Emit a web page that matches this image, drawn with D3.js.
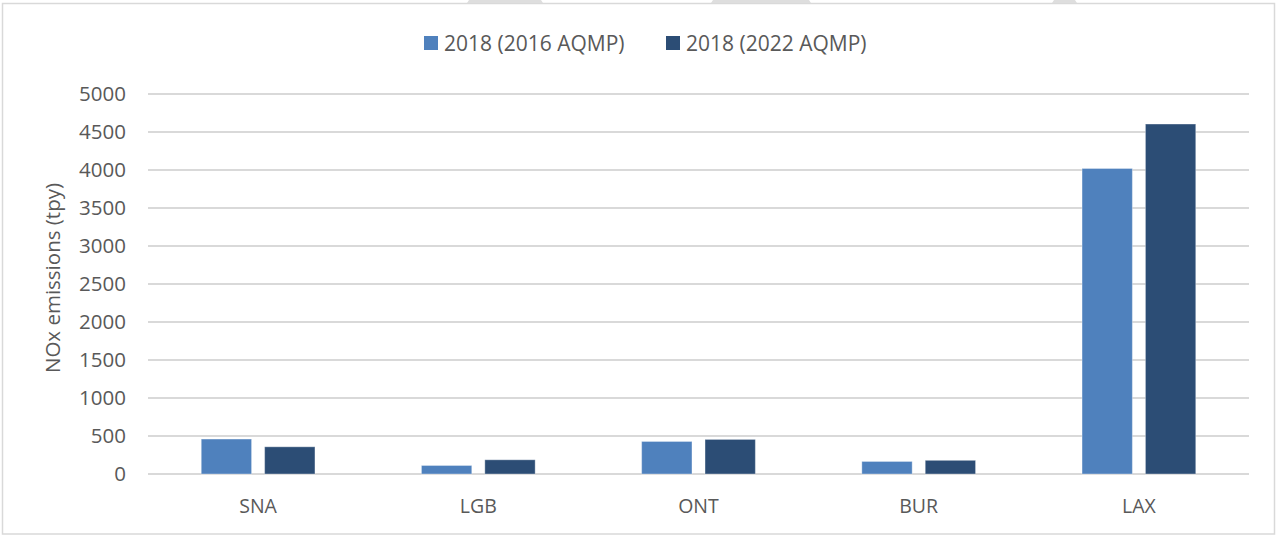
<!DOCTYPE html>
<html>
<head>
<meta charset="utf-8">
<script src="https://cdn.jsdelivr.net/npm/d3@7"></script>
<style>
  html, body { margin: 0; padding: 0; background: #fff; }
  text { font-family: "Open Sans", "Noto Sans", sans-serif; fill: #595959; }
</style>
</head>
<body>
<div id="chart"></div>
<script>
// data
const airports = ['SNA', 'LGB', 'ONT', 'BUR', 'LAX'];
const seriesNames = ['2018 (2016 AQMP)', '2018 (2022 AQMP)'];
const aqmp2016 = [460, 112, 428, 165, 4020];
const aqmp2022 = [358, 187, 455, 180, 4605];
const yTicks = [0, 500, 1000, 1500, 2000, 2500, 3000, 3500, 4000, 4500, 5000];
const colors = ['#4f81bd', '#2c4d75'];

const width = 1278;
const height = 536;
const plot = { left: 148, right: 1249, top: 94, bottom: 474 };

const svg = d3.select('#chart')
  .append('svg')
  .attr('width', width)
  .attr('height', height);

// outer chart frame
svg.append('rect')
  .attr('x', 2.5).attr('y', 3.5)
  .attr('width', 1272).attr('height', 530.5)
  .attr('fill', 'none')
  .attr('stroke', '#d9d9d9')
  .attr('stroke-width', 1.5);

// faint grey shapes poking above the frame
[[469, 541], [713, 809], [1054, 1075]].forEach(([a, b]) => {
  svg.append('path')
    .attr('d', `M${a},0 L${b},0 L${b + 2},3 L${a - 2},3 Z`)
    .attr('fill', '#dedede');
});

const x0 = d3.scaleBand()
  .domain(airports)
  .range([plot.left, plot.right])
  .paddingInner(0).paddingOuter(0);

const x1 = d3.scaleBand()
  .domain(seriesNames)
  .range([0, x0.bandwidth()])
  .paddingInner(0.206)
  .paddingOuter(0.84);

const y = d3.scaleLinear()
  .domain([0, 5000])
  .range([plot.bottom, plot.top]);

// gridlines
svg.append('g')
  .selectAll('line')
  .data(yTicks)
  .enter()
  .append('line')
  .attr('x1', plot.left).attr('x2', plot.right)
  .attr('y1', d => y(d)).attr('y2', d => y(d))
  .attr('stroke', '#d9d9d9')
  .attr('stroke-width', 1.8);

// y tick labels
svg.append('g')
  .selectAll('text')
  .data(yTicks)
  .enter()
  .append('text')
  .attr('x', 126)
  .attr('y', d => y(d))
  .attr('dy', '0.36em')
  .attr('text-anchor', 'end')
  .style('font-size', '20.5px')
  .text(d => d);

// bars
const rows = airports.map((a, i) => ({ airport: a, values: [aqmp2016[i], aqmp2022[i]] }));

const groups = svg.append('g')
  .selectAll('g')
  .data(rows)
  .enter()
  .append('g')
  .attr('transform', d => 'translate(' + x0(d.airport) + ',0)');

groups.selectAll('rect')
  .data(d => d.values.map((v, j) => ({ key: seriesNames[j], value: v, idx: j })))
  .enter()
  .append('rect')
  .attr('x', d => x1(d.key))
  .attr('y', d => y(d.value))
  .attr('width', x1.bandwidth())
  .attr('height', d => y(0) - y(d.value))
  .attr('fill', d => colors[d.idx])
  .attr('stroke', '#ffffff')
  .attr('stroke-opacity', 0.35)
  .attr('stroke-width', 1);

// category labels
svg.append('g')
  .selectAll('text')
  .data(airports)
  .enter()
  .append('text')
  .attr('x', d => x0(d) + x0.bandwidth() / 2)
  .attr('y', 513)
  .attr('text-anchor', 'middle')
  .style('font-size', '19.5px')
  .text(d => d);

// y axis title
svg.append('text')
  .attr('transform', 'translate(60,278) rotate(-90)')
  .attr('text-anchor', 'middle')
  .style('font-size', '20.5px')
  .text('NOx emissions (tpy)');

// legend
const legendX = [424, 666];
const legend = svg.append('g')
  .selectAll('g')
  .data(seriesNames)
  .enter()
  .append('g')
  .attr('transform', (d, i) => 'translate(' + legendX[i] + ',36)');

legend.append('rect')
  .attr('width', 14).attr('height', 14)
  .attr('fill', (d, i) => colors[i]);

legend.append('text')
  .attr('x', 20)
  .attr('y', 14.5)
  .style('font-size', '21px')
  .text(d => d);
</script>
</body>
</html>
